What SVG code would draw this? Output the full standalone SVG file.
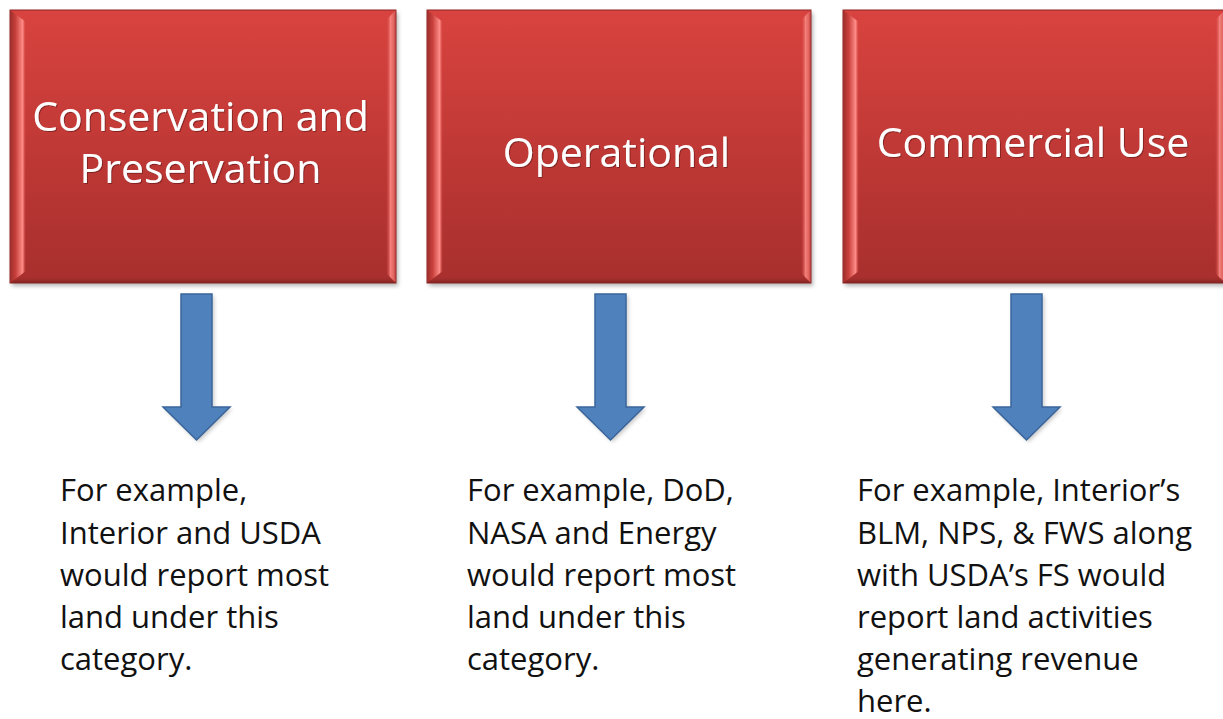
<svg xmlns="http://www.w3.org/2000/svg" width="1223" height="719" viewBox="0 0 1223 719">
  <defs>
    <linearGradient id="boxFill" x1="0" y1="0" x2="0" y2="1">
      <stop offset="0" stop-color="#d9433f"/>
      <stop offset="1" stop-color="#a72f2d"/>
    </linearGradient>
    <linearGradient id="bevelL" x1="0" y1="0" x2="1" y2="0">
      <stop offset="0" stop-color="#9c2d2b"/>
      <stop offset="0.35" stop-color="#c8403c"/>
      <stop offset="0.8" stop-color="#ff8d88"/>
      <stop offset="1" stop-color="#d64440" stop-opacity="0"/>
    </linearGradient>
    <linearGradient id="bevelR" x1="0" y1="0" x2="1" y2="0">
      <stop offset="0" stop-color="#d04240" stop-opacity="0"/>
      <stop offset="0.45" stop-color="#f5807b"/>
      <stop offset="0.8" stop-color="#e0625e"/>
      <stop offset="1" stop-color="#a83230"/>
    </linearGradient>
    <linearGradient id="bevelB" x1="0" y1="0" x2="0" y2="1">
      <stop offset="0" stop-color="#a22e2c" stop-opacity="0"/>
      <stop offset="1" stop-color="#7e2221"/>
    </linearGradient>
    <filter id="shadow" x="-5%" y="-5%" width="115%" height="115%">
      <feGaussianBlur stdDeviation="2"/>
    </filter>
    <filter id="tshadow" x="-5%" y="-20%" width="110%" height="140%">
      <feDropShadow dx="1" dy="1" stdDeviation="0.6" flood-color="#5a1212" flood-opacity="0.6"/>
    </filter>
  </defs>
  <style>
    .shadow { fill: #777; opacity: 0.55; }
    .box { fill: url(#boxFill); stroke: #8b2624; stroke-width: 1; }
    .bl { fill: url(#bevelL); }
    .br { fill: url(#bevelR); }
    .bb { fill: url(#bevelB); }
    .title { font-family: "Open Sans", "Liberation Sans", sans-serif; font-size: 41px; fill: #ffffff; text-anchor: middle; }
    .body { font-family: "Open Sans", "Liberation Sans", sans-serif; font-size: 31px; fill: #111111; }
    .arrow { fill: #4f81bd; stroke: #3a659a; stroke-width: 1.5; stroke-linejoin: miter; }
    .ashadow { fill: #555; opacity: 0.35; }
  </style>
  <rect width="1223" height="719" fill="#ffffff"/>

  <g id="node-conservation">
    <rect class="shadow" x="12" y="13" width="386" height="273" filter="url(#shadow)"/>
    <rect class="box" x="10" y="10" width="386" height="273"/>
    <polygon class="bl" points="10,10 26,22 26,271 10,283"/>
    <polygon class="br" points="386,20 396,10 396,283 386,273"/>
    <polygon class="bb" points="10,283 18,277 388,277 396,283"/>
    <text class="title" x="200.5" y="131" filter="url(#tshadow)">Conservation and</text>
    <text class="title" x="200.5" y="183" filter="url(#tshadow)">Preservation</text>
  </g>

  <g id="node-operational">
    <rect class="shadow" x="429" y="13" width="384" height="273" filter="url(#shadow)"/>
    <rect class="box" x="427" y="10" width="384" height="273"/>
    <polygon class="bl" points="427,10 443,22 443,271 427,283"/>
    <polygon class="br" points="801,20 811,10 811,283 801,273"/>
    <polygon class="bb" points="427,283 435,277 803,277 811,283"/>
    <text class="title" x="616.5" y="167" filter="url(#tshadow)">Operational</text>
  </g>

  <g id="node-commercial">
    <rect class="shadow" x="845" y="13" width="384" height="273" filter="url(#shadow)"/>
    <rect class="box" x="843" y="10" width="384" height="273"/>
    <polygon class="bl" points="843,10 859,22 859,271 843,283"/>
    <polygon class="br" points="1215,20 1225,10 1225,283 1215,273"/>
    <polygon class="bb" points="843,283 851,277 1219,277 1227,283"/>
    <text class="title" x="1033" y="157" filter="url(#tshadow)">Commercial Use</text>
  </g>

  <g id="connectors">
    <path class="ashadow" d="M183,296 H214 V409 H232 L198.5,442 L165,409 H183 Z" filter="url(#shadow)"/>
    <path class="arrow" d="M181,294 H212 V407 H230 L196.5,440 L163,407 H181 Z"/>
    <path class="ashadow" d="M597,296 H628 V409 H646 L612.5,442 L579,409 H597 Z" filter="url(#shadow)"/>
    <path class="arrow" d="M595,294 H626 V407 H644 L610.5,440 L577,407 H595 Z"/>
    <path class="ashadow" d="M1013,296 H1044 V409 H1062 L1028.5,442 L995,409 H1013 Z" filter="url(#shadow)"/>
    <path class="arrow" d="M1011,294 H1042 V407 H1060 L1026.5,440 L993,407 H1011 Z"/>
  </g>

  <g id="text-conservation">
    <text class="body" x="60" y="501">For example,</text>
    <text class="body" x="60" y="544">Interior and USDA</text>
    <text class="body" x="60" y="586">would report most</text>
    <text class="body" x="60" y="628">land under this</text>
    <text class="body" x="60" y="670">category.</text>
  </g>

  <g id="text-operational">
    <text class="body" x="467" y="501">For example, DoD,</text>
    <text class="body" x="467" y="544">NASA and Energy</text>
    <text class="body" x="467" y="586">would report most</text>
    <text class="body" x="467" y="628">land under this</text>
    <text class="body" x="467" y="670">category.</text>
  </g>

  <g id="text-commercial">
    <text class="body" x="857" y="501">For example, Interior’s</text>
    <text class="body" x="857" y="544">BLM, NPS, &amp; FWS along</text>
    <text class="body" x="857" y="586">with USDA’s FS would</text>
    <text class="body" x="857" y="628">report land activities</text>
    <text class="body" x="857" y="670">generating revenue</text>
    <text class="body" x="857" y="712">here.</text>
  </g>
</svg>
